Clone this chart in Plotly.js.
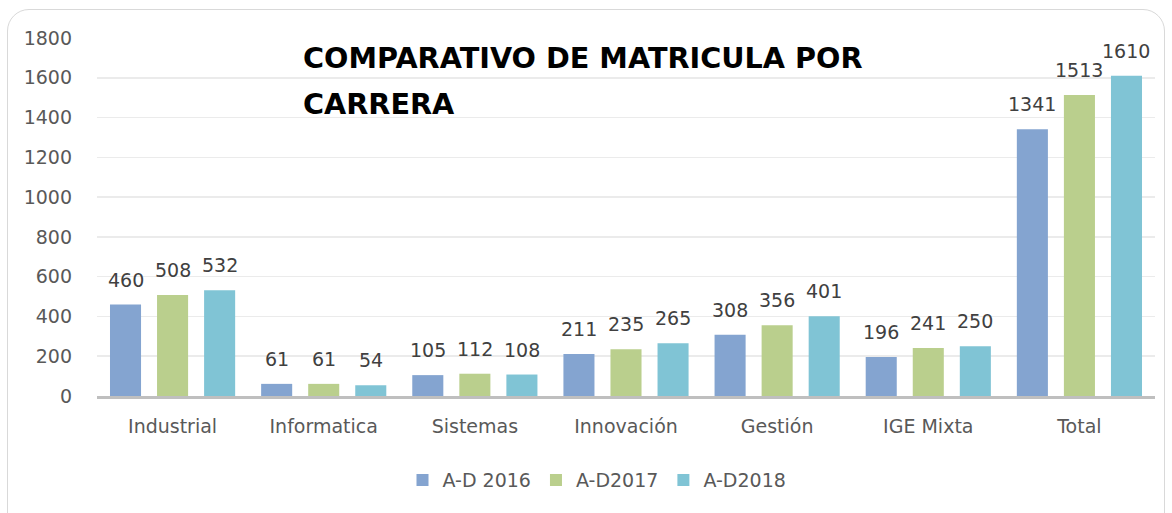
<!DOCTYPE html>
<html><head><meta charset="utf-8">
<script src="https://cdn.plot.ly/plotly-3.0.1.min.js"></script>
<style>
html,body{margin:0;padding:0;background:#fff;overflow:hidden;}
#frame{position:absolute;left:7px;top:9px;width:1158px;height:540px;border:1.5px solid #d9d9d9;border-radius:22px;box-sizing:border-box;}
#chart{position:absolute;left:0;top:0;width:1172px;height:513px;}
</style></head>
<body>
<div id="frame"></div>
<div id="chart"></div>
<script>
const categories = ["Industrial","Informatica","Sistemas","Innovación","Gestión","IGE Mixta","Total"];
const seriesNames = ["A-D 2016","A-D2017","A-D2018"];
const s2016 = [460,61,105,211,308,196,1341];
const s2017 = [508,61,112,235,356,241,1513];
const s2018 = [532,54,108,265,401,250,1610];
const yTicks = [0,200,400,600,800,1000,1200,1400,1600,1800];
const titleLines = ["COMPARATIVO DE MATRICULA POR","CARRERA"];
const colors = ["#84A4D0","#BACF8D","#80C4D5"];
const font = "'DejaVu Sans', sans-serif";
const series = [s2016,s2017,s2018];

const data = series.map((v,i)=>({
  type:"bar", name:seriesNames[i], x:categories, y:v,
  marker:{color:colors[i]}, hoverinfo:"none"
}));

const annotations = [];
const shifts = [-47,0,47];
series.forEach((v,i)=>{
  v.forEach((val,j)=>{
    annotations.push({x:categories[j], y:val, xref:"x", yref:"y", text:String(val),
      showarrow:false, xanchor:"center", yanchor:"bottom", xshift:shifts[i], yshift:12,
      font:{size:19,color:"#404040",family:font}});
  });
});
// title lines
const W=1058, H=358;
titleLines.forEach((t,k)=>{
  annotations.push({xref:"paper", yref:"paper", x:(301-97)/W, y:(396-(58+k*46))/H,
    xanchor:"left", yanchor:"middle", text:"<b>"+t+"</b>", showarrow:false,
    font:{size:28.7,color:"#000",family:font}});
});

const layout = {
  width:1172, height:513,
  margin:{l:97,r:17,t:38,b:117},
  paper_bgcolor:"rgba(0,0,0,0)", plot_bgcolor:"rgba(0,0,0,0)",
  barmode:"group", bargap:0.066, bargroupgap:0.34,
  font:{family:font,color:"#595959",size:19},
  xaxis:{showline:true,linecolor:"#bfbfbf",linewidth:2.5,ticks:"",ticklabelstandoff:12,
    tickfont:{size:19,color:"#595959"}, showgrid:false},
  yaxis:{range:[0,1800],tickvals:yTicks,showgrid:true,gridcolor:"#ebebeb",gridwidth:1.5,
    zeroline:false,ticks:"",ticklabelstandoff:24,tickfont:{size:19,color:"#595959"}},
  legend:{orientation:"h",x:0.5-29/1058,xanchor:"center",y:-0.235,yanchor:"middle",
    font:{size:19,color:"#595959"},itemwidth:30,traceorder:"normal"},
  annotations:annotations,
  showlegend:true
};
Plotly.newPlot("chart",data,layout,{displayModeBar:false,staticPlot:true});
</script>
</body></html>
